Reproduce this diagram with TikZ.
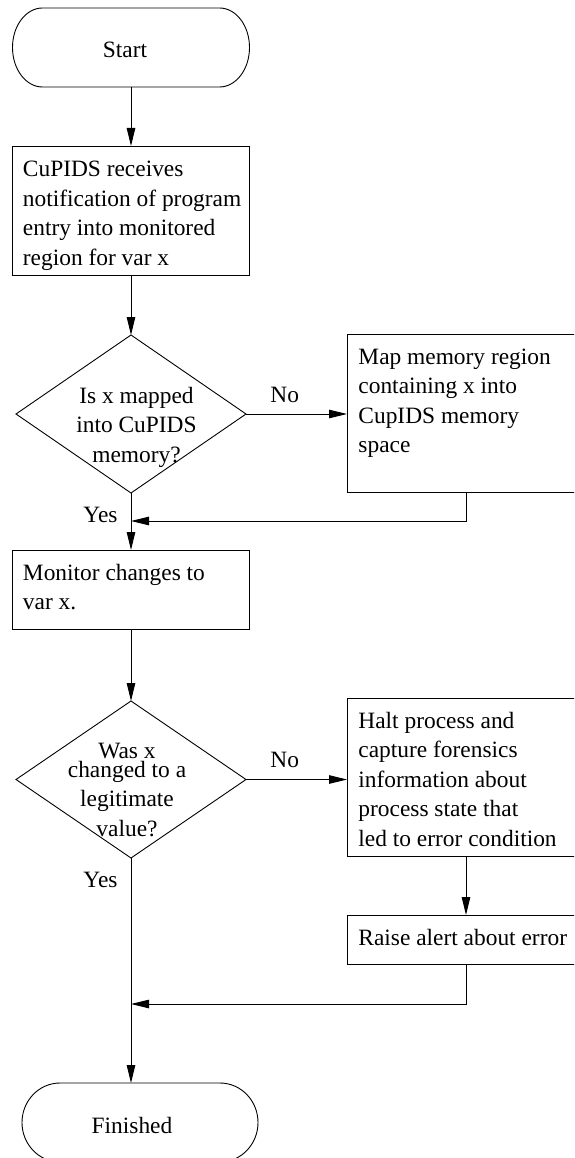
\documentclass[tikz,border=0pt]{standalone}
\usepackage{fontspec}
\setmainfont{Liberation Serif}
\usetikzlibrary{shapes.geometric,arrows.meta}
\begin{document}
\begin{tikzpicture}[x=1pt,y=-1pt,line width=0.9pt,
  procbox/.style={draw, rectangle, inner sep=0pt, outer sep=0pt},
  termbox/.style={rectangle, inner sep=0pt, outer sep=0pt},
  decision/.style={draw, diamond, inner sep=0pt, outer sep=0pt},
  txt/.style={inner sep=0pt, anchor=base west, font=\fontsize{23.4}{29.5}\selectfont},
  ctxt/.style={inner sep=0pt, anchor=base, font=\fontsize{23.4}{29.5}\selectfont},
  arr/.style={-{Triangle[length=18pt,width=8.5pt]}}]
\useasboundingbox (0,0) rectangle (574,1158);
\clip (0,0) rectangle (574,1158);

% Start terminal
\node[termbox, minimum width=237pt, minimum height=79pt] (start) at (131,47.5) {};
\draw ([xshift=30pt]start.north west) -- ([xshift=-30pt]start.north east)
  arc[start angle=90, end angle=-90, x radius=30pt, y radius=39.5pt]
  -- ([xshift=30pt]start.south west)
  arc[start angle=270, end angle=90, x radius=30pt, y radius=39.5pt] -- cycle;
\node[ctxt] (starttxt) at (125,58) {Start};

% Box 1
\node[procbox, minimum width=237pt, minimum height=129pt] (b1) at (131,210.5) {};
\node[txt] (b1txt) at (22.5,177) {\begin{tabular}[t]{@{}l@{}}CuPIDS receives\\notification of program\\entry into monitored\\region for var x\end{tabular}};

% Decision 1
\node[decision, minimum width=230pt, minimum height=158pt] (d1) at (131,414) {};
\node[ctxt] (d1txt) at (136.5,403) {\begin{tabular}[t]{@{}c@{}}Is x mapped\\into CuPIDS\\memory?\end{tabular}};

% Map box
\node[procbox, minimum width=238pt, minimum height=158pt] (map) at (466,413) {};
\node[txt] (maptxt) at (358,364) {\begin{tabular}[t]{@{}l@{}}Map memory region\\containing x into\\CupIDS memory\\space\end{tabular}};
\node[txt] (no1) at (270,402) {No};
\node[txt] (yes1) at (83,522) {Yes};
\coordinate (j1) at (131,521);

% Monitor box
\node[procbox, minimum width=237pt, minimum height=79pt] (mon) at (131,589.5) {};
\node[txt] (montxt) at (22.5,580) {\begin{tabular}[t]{@{}l@{}}Monitor changes to\\var x.\end{tabular}};

% Decision 2
\node[decision, minimum width=230pt, minimum height=157pt] (d2) at (131,779.5) {};
\node[ctxt] (d2txt) at (127,758) {\begin{tabular}[t]{@{}c@{}}Was x\\[-10.5pt]changed to a\\legitimate\\value?\end{tabular}};

% Halt box
\node[procbox, minimum width=238pt, minimum height=158pt] (halt) at (466,777) {};
\node[txt] (halttxt) at (358,728) {\begin{tabular}[t]{@{}l@{}}Halt process and\\capture forensics\\information about\\process state that\\led to error condition\end{tabular}};
\node[txt] (no2) at (270,767) {No};
\node[txt] (yes2) at (83,887) {Yes};

% Raise box
\node[procbox, minimum width=238pt, minimum height=49pt] (raise) at (466,939.5) {};
\node[txt] (raisetxt) at (358,945) {Raise alert about error};
\coordinate (j2) at (131,1004);

% Finished terminal
\node[termbox, minimum width=236pt, minimum height=79pt] (fin) at (140,1122.5) {};
\draw ([xshift=38pt]fin.north west) -- ([xshift=-38pt]fin.north east)
  arc[start angle=90, end angle=-90, x radius=38pt, y radius=39.5pt]
  -- ([xshift=38pt]fin.south west)
  arc[start angle=270, end angle=90, x radius=38pt, y radius=39.5pt] -- cycle;
\node[ctxt] (fintxt) at (132,1133) {Finished};

% Connectors
\draw[arr] (start.south) -- (b1.north);
\draw[arr] (b1.south) -- (d1.north);
\draw[arr] (d1.east) -- (d1.east -| map.west);
\draw[arr] (map.south) |- (j1);
\draw[arr] (d1.south) -- (mon.north);
\draw[arr] (mon.south) -- (d2.north);
\draw[arr] (d2.east) -- (d2.east -| halt.west);
\draw[arr] (halt.south) -- (raise.north);
\draw[arr] (raise.south) |- (j2);
\draw[arr] (d2.south) -- (d2.south |- fin.north);
\end{tikzpicture}
\end{document}
